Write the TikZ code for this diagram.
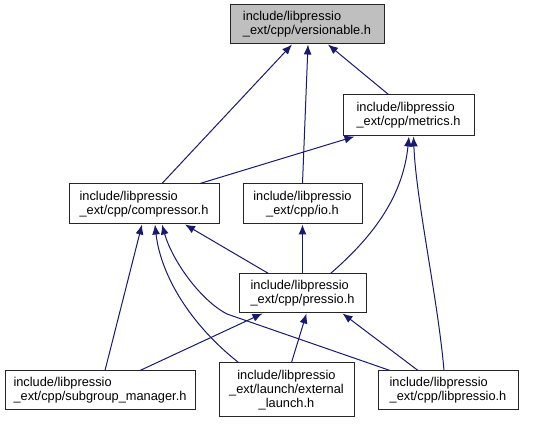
\documentclass[tikz,border=0pt]{standalone}
\usepackage{xcolor}
\usepackage{fontspec}
\setmainfont{Liberation Sans}
\usepackage{tikz}
\usetikzlibrary{arrows.meta, calc}
\definecolor{edgeblue}{HTML}{191970}
\definecolor{rootgray}{HTML}{BFBFBF}
\tikzstyle{filebox} = [rectangle, draw=black!85, line width=0.75pt, fill=white, align=left, inner sep=0pt, font=\fontsize{9.6}{10.6}\selectfont]
\tikzstyle{incl} = [draw=edgeblue, line width=0.75pt, -{Latex[length=7.5pt,width=6pt]}]

\begin{document}
\begin{tikzpicture}[x=0.75pt, y=-0.75pt]
\useasboundingbox (0,0) rectangle (537,424);

\node[filebox, fill=rootgray, minimum width=115.5pt, minimum height=29.25pt] (vers) at (307,24.5) {include/libpressio\\\_ext/cpp/versionable.h};

\node[filebox, minimum width=98.25pt, minimum height=30.75pt] (metrics) at (408.5,115.5) {include/libpressio\\\_ext/cpp/metrics.h};

\node[filebox, minimum width=112.5pt, minimum height=30pt] (compressor) at (144,204) {include/libpressio\\\_ext/cpp/compressor.h};

\node[filebox, align=center, minimum width=89.25pt, minimum height=30pt] (io) at (302.5,204) {include/libpressio\\\_ext/cpp/io.h};

\node[filebox, minimum width=95.25pt, minimum height=29.25pt] (pressio) at (302.5,293.5) {include/libpressio\\\_ext/cpp/pressio.h};

\node[filebox, minimum width=142.5pt, minimum height=29.25pt] (subgroup) at (100,390.5) {include/libpressio\\\_ext/cpp/subgroup\_manager.h};

\node[filebox, align=center, minimum width=101.25pt, minimum height=40.5pt] (external) at (286.5,390) {include/libpressio\\\_ext/launch/external\\\_launch.h};

\node[filebox, minimum width=105pt, minimum height=29.25pt] (libpressio) at (448,390.5) {include/libpressio\\\_ext/cpp/libpressio.h};

% includes of versionable.h
\draw[incl] ($(compressor.north)+(18,0)$) -- ($(vers.south)+(-15,0)$);
\draw[incl] (io.north) -- ($(vers.south)+(1,0)$);
\draw[incl] ($(metrics.north)+(-20,0)$) -- ($(vers.south)+(21,0)$);

% includes of metrics.h
\draw[incl] ($(compressor.north)+(56,0)$) -- ($(metrics.south)+(-54,0)$);
\draw[incl] ($(pressio.north)+(28,0)$) .. controls (375,235) and (403,195) .. ($(metrics.south)+(0.5,0)$);
\draw[incl] ($(libpressio.north)+(-4,0)$) .. controls (438,300) and (416,200) .. ($(metrics.south)+(5,0)$);

% includes of compressor.h and io.h
\draw[incl] ($(pressio.north)+(-34,0)$) -- ($(compressor.south)+(41,0)$);
\draw[incl] (pressio.north) -- (io.south);
\draw[incl] ($(subgroup.north)+(5,0)$) -- ($(compressor.south)+(-2,0)$);
\draw[incl] ($(external.north)+(-48,0)$) .. controls (185,320) and (160,270) .. ($(compressor.south)+(11,0)$);
\draw[incl] ($(libpressio.north)+(-58,0)$) -- (227,314) .. controls (200,300) and (172,260) .. ($(compressor.south)+(18,0)$);

% includes of pressio.h
\draw[incl] ($(subgroup.north)+(40,0)$) -- ($(pressio.south)+(-40,0)$);
\draw[incl] ($(external.north)+(5,0)$) -- ($(pressio.south)+(4,0)$);
\draw[incl] ($(libpressio.north)+(-30,0)$) -- ($(pressio.south)+(40,0)$);
\end{tikzpicture}
\end{document}
